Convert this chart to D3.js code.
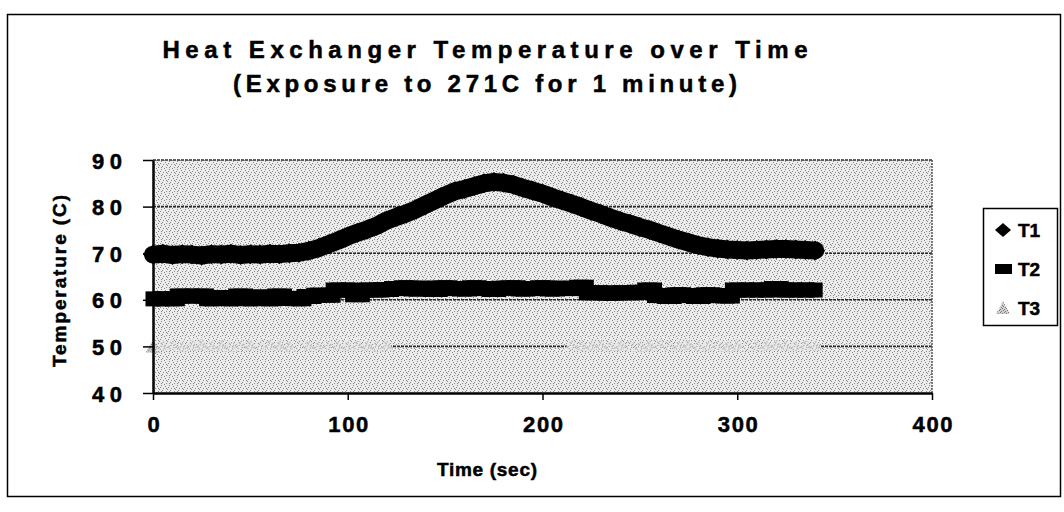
<!DOCTYPE html>
<html>
<head>
<meta charset="utf-8">
<script src="https://cdn.jsdelivr.net/npm/d3@7"></script>
<style>
  html, body { margin: 0; padding: 0; background: #fff; }
  svg { display: block; }
  text { font-family: "Liberation Sans", Arial, Helvetica, sans-serif; font-weight: bold; fill: #000; stroke: #000; stroke-width: 0.5px; }
</style>
</head>
<body>
<svg id="chart" width="1064" height="512"></svg>
<script>
// Sample times (sec) shared by the three thermocouples
const times = [
  0, 5, 10, 15, 20, 25, 30, 35, 40, 45, 50, 55, 60, 65, 70, 75, 80, 85, 90, 95,
  100, 105, 110, 115, 120, 125, 130, 135, 140, 145, 150, 155, 160, 165, 170, 175, 180, 185, 190, 195,
  200, 205, 210, 215, 220, 225, 230, 235, 240, 245, 250, 255, 260, 265, 270, 275, 280, 285, 290, 295,
  300, 305, 310, 315, 320, 325, 330, 335, 340
];

// Thermocouple T1 (C)
const t1 = [
  69.7, 69.9, 69.6, 69.8, 69.7, 69.5, 69.8, 69.7, 69.9, 69.6, 69.8, 69.7, 69.9, 69.8, 70.0, 70.1, 70.5, 71.1, 71.9, 72.7,
  73.6, 74.4, 75.1, 75.9, 77.0, 77.8, 78.5, 79.4, 80.4, 81.4, 82.4, 83.3, 83.8, 84.4, 85.0, 85.3, 85.1, 84.7, 84.0, 83.4,
  82.8, 82.0, 81.3, 80.6, 79.9, 79.1, 78.4, 77.6, 76.9, 76.3, 75.6, 75.0, 74.3, 73.6, 72.9, 72.3, 71.7, 71.3, 71.0, 70.8,
  70.7, 70.6, 70.7, 70.8, 70.9, 70.9, 70.8, 70.7, 70.6
];

// Thermocouple T2 (C)
const t2 = [
  60.2, 60.2, 60.2, 60.8, 60.8, 60.8, 60.2, 60.5, 60.2, 60.8, 60.2, 60.6, 60.2, 60.8, 60.3, 60.2, 60.7, 61.0, 61.0, 62.1,
  62.1, 61.1, 62.1, 62.1, 62.2, 62.4, 62.6, 62.3, 62.5, 62.2, 62.6, 62.4, 62.3, 62.6, 62.4, 62.2, 62.5, 62.6, 62.3, 62.4,
  62.6, 62.3, 62.5, 62.4, 62.7, 61.5, 61.5, 61.4, 61.5, 61.5, 61.6, 62.1, 60.9, 60.7, 61.1, 60.9, 60.7, 61.1, 60.9, 60.8,
  62.1, 62.1, 62.1, 62.1, 62.4, 62.1, 62.1, 62.1, 62.1
];

// Thermocouple T3 (C); null where no reading was logged
const t3 = [
  49.6, 49.9, 50.1, 49.8, 50.0, 50.2, 49.9, 50.0, 49.8, 50.1, 50.0, 49.9, 50.2, 50.0, 49.8, 50.1, 50.0, 49.9, 50.1, 50.0,
  49.9, 50.1, 50.0, 49.8, 50.0, null, null, null, null, null, null, null, null, null, null, null, null, null, null, null,
  null, null, null, 50.1, 49.9, 50.0, 50.2, 49.9, 50.0, 50.1, 49.8, 50.0, 50.1, 49.9, 50.0, 50.2, 49.9, 50.0, 50.1, 49.8,
  50.0, 50.1, 49.9, 50.0, 50.2, 50.0, 49.9, 50.1, 50.0
];

const xTicks = [0, 100, 200, 300, 400];
const yTicks = [40, 50, 60, 70, 80, 90];
const seriesNames = ["T1", "T2", "T3"];

const titleLines = ["Heat Exchanger Temperature over Time", "(Exposure to 271C for 1 minute)"];
const xTitle = "Time (sec)";
const yTitle = "Temperature (C)";

const svg = d3.select("#chart");

// halftone-like fills
const defs = svg.append("defs");
function speckle(id, base, dot, pts) {
  const p = defs.append("pattern").attr("id", id)
    .attr("width", 8).attr("height", 8).attr("patternUnits", "userSpaceOnUse");
  p.append("rect").attr("width", 8).attr("height", 8).attr("fill", base);
  pts.forEach(([a, b]) => p.append("rect").attr("x", a).attr("y", b)
    .attr("width", 1).attr("height", 1).attr("fill", dot));
}
speckle("plotFill", "#ececec", "#888888",
  [[1, 1], [5, 2], [3, 4], [7, 5], [2, 6], [6, 7], [0, 3], [4, 0], [6, 4], [1, 7]]);
speckle("t3Fill", "#e9e9e9", "#888888",
  [[1, 1], [5, 2], [3, 4], [7, 5], [2, 6], [6, 7], [0, 3], [4, 0], [6, 4], [1, 7], [3, 1]]);
speckle("t3Key", "#d0d0d0", "#7a7a7a",
  [[0, 0], [2, 1], [4, 0], [6, 1], [1, 3], [3, 2], [5, 3], [7, 2], [0, 5], [2, 4], [4, 5], [6, 4], [1, 7], [3, 6], [5, 7], [7, 6]]);

// outer chart frame
svg.append("rect").attr("x", 7.5).attr("y", 14.5).attr("width", 1053).attr("height", 482)
  .attr("fill", "#fff").attr("stroke", "#000").attr("stroke-width", 1.5);

const x = d3.scaleLinear().domain([0, 400]).range([153, 932]);
const y = d3.scaleLinear().domain([40, 90]).range([393, 160]);

// plot area
svg.append("rect")
  .attr("x", x(0)).attr("y", y(90))
  .attr("width", x(400) - x(0)).attr("height", y(40) - y(90))
  .attr("fill", "url(#plotFill)");

// gridlines
svg.append("g").selectAll("line").data(yTicks.filter(v => v > 40))
  .join("line")
  .attr("x1", x(0)).attr("x2", x(400))
  .attr("y1", d => y(d)).attr("y2", d => y(d))
  .attr("stroke", "#2a2a2a").attr("stroke-width", 1.6).attr("stroke-dasharray", "3,1");

// right edge of the plot area
svg.append("line").attr("x1", x(400)).attr("x2", x(400)).attr("y1", y(90)).attr("y2", y(40))
  .attr("stroke", "#555").attr("stroke-width", 1.5).attr("stroke-dasharray", "2,1");

const rows = (vals) => times.map((t, i) => ({ t, v: vals[i] }));

// T3: pale stippled triangles, close to the plot tone
const t3Rows = rows(t3);
svg.append("path").datum(t3Rows)
  .attr("fill", "none").attr("stroke", "url(#t3Fill)").attr("stroke-width", 12)
  .attr("d", d3.line().defined(d => d.v != null).x(d => x(d.t)).y(d => y(d.v)));
const tri = d3.symbol().type(d3.symbolTriangle).size(90);
svg.append("g").selectAll("path").data(t3Rows.filter(d => d.v != null))
  .join("path")
  .attr("transform", d => `translate(${x(d.t)},${y(d.v)})`)
  .attr("d", tri).attr("fill", (d, i) => i === 0 ? "url(#t3Key)" : "url(#t3Fill)");

// T2: black squares
const t2Rows = rows(t2);
svg.append("path").datum(t2Rows)
  .attr("fill", "none").attr("stroke", "#000").attr("stroke-width", 15)
  .attr("stroke-linejoin", "miter")
  .attr("d", d3.line().curve(d3.curveStep).x(d => x(d.t)).y(d => y(d.v)));
svg.append("g").selectAll("rect").data(t2Rows)
  .join("rect")
  .attr("x", d => x(d.t) - 7.5).attr("y", d => y(d.v) - 7.5)
  .attr("width", 15).attr("height", 15).attr("fill", "#000");

// T1: black diamonds
const t1Rows = rows(t1);
svg.append("path").datum(t1Rows)
  .attr("fill", "none").attr("stroke", "#000").attr("stroke-width", 18)
  .attr("stroke-linejoin", "round").attr("stroke-linecap", "round")
  .attr("d", d3.line().x(d => x(d.t)).y(d => y(d.v)));
const diamond = d => {
  const cx = x(d.t), cy = y(d.v), r = 10;
  return `M${cx},${cy - r}L${cx + r},${cy}L${cx},${cy + r}L${cx - r},${cy}Z`;
};
svg.append("g").selectAll("path").data(t1Rows)
  .join("path").attr("d", diamond).attr("fill", "#000");

// axes
const yAxis = svg.append("g").attr("transform", `translate(${x(0)},0)`)
  .call(d3.axisLeft(y).tickValues(yTicks).tickSize(10).tickSizeOuter(0));
yAxis.select(".domain").attr("stroke", "#000").attr("stroke-width", 2.5);
yAxis.selectAll(".tick line").attr("stroke", "#000").attr("stroke-width", 1.5);
yAxis.selectAll(".tick text")
  .attr("text-anchor", "start").attr("x", -61)
  .attr("font-size", 22).attr("dy", 8)
  .attr("textLength", 30).attr("lengthAdjust", "spacing")
  .style("font-family", "'Liberation Sans', Arial, sans-serif").style("font-weight", "bold");

const xAxis = svg.append("g").attr("transform", `translate(0,${y(40)})`)
  .call(d3.axisBottom(x).tickValues(xTicks).tickSize(7).tickSizeOuter(0));
xAxis.select(".domain").attr("stroke", "#000").attr("stroke-width", 2.5);
xAxis.selectAll(".tick line").attr("stroke", "#000").attr("stroke-width", 1.5);
xAxis.selectAll(".tick text")
  .attr("font-size", 22).attr("y", 39).attr("dy", 0)
  .each(function (d) { if (d > 0) d3.select(this).attr("textLength", 40).attr("lengthAdjust", "spacing"); })
  .style("font-family", "'Liberation Sans', Arial, sans-serif").style("font-weight", "bold");

// titles
svg.append("text").attr("x", 485).attr("y", 58).attr("text-anchor", "middle")
  .attr("font-size", 24).attr("textLength", 645).attr("lengthAdjust", "spacing")
  .text(titleLines[0]);
svg.append("text").attr("x", 485).attr("y", 92).attr("text-anchor", "middle")
  .attr("font-size", 24).attr("textLength", 504).attr("lengthAdjust", "spacing")
  .text(titleLines[1]);

svg.append("text").attr("x", 487).attr("y", 476).attr("text-anchor", "middle")
  .attr("font-size", 19).attr("textLength", 100).attr("lengthAdjust", "spacing")
  .text(xTitle);

svg.append("text")
  .attr("transform", "translate(66,281) rotate(-90)")
  .attr("text-anchor", "middle")
  .attr("font-size", 19).attr("textLength", 172).attr("lengthAdjust", "spacing")
  .text(yTitle);

// legend
const lg = svg.append("g");
lg.append("rect").attr("x", 983.5).attr("y", 208.5).attr("width", 74).attr("height", 117)
  .attr("fill", "#fff").attr("stroke", "#000").attr("stroke-width", 1.5);
const legendY = [230, 269, 308];
seriesNames.forEach((name, i) => {
  const cy = legendY[i];
  if (i === 0) {
    lg.append("path").attr("d", `M1003,${cy - 7}L1011,${cy}L1003,${cy + 7}L995,${cy}Z`).attr("fill", "#000");
  } else if (i === 1) {
    lg.append("rect").attr("x", 995).attr("y", cy - 5).attr("width", 17).attr("height", 10).attr("fill", "#000");
  } else {
    lg.append("path").attr("d", `M1003,${cy - 7}L1010,${cy + 6}L996,${cy + 6}Z`).attr("fill", "url(#t3Key)");
  }
  lg.append("text").attr("x", 1018).attr("y", cy + 7).attr("font-size", 19).text(name);
});
</script>
</body>
</html>
